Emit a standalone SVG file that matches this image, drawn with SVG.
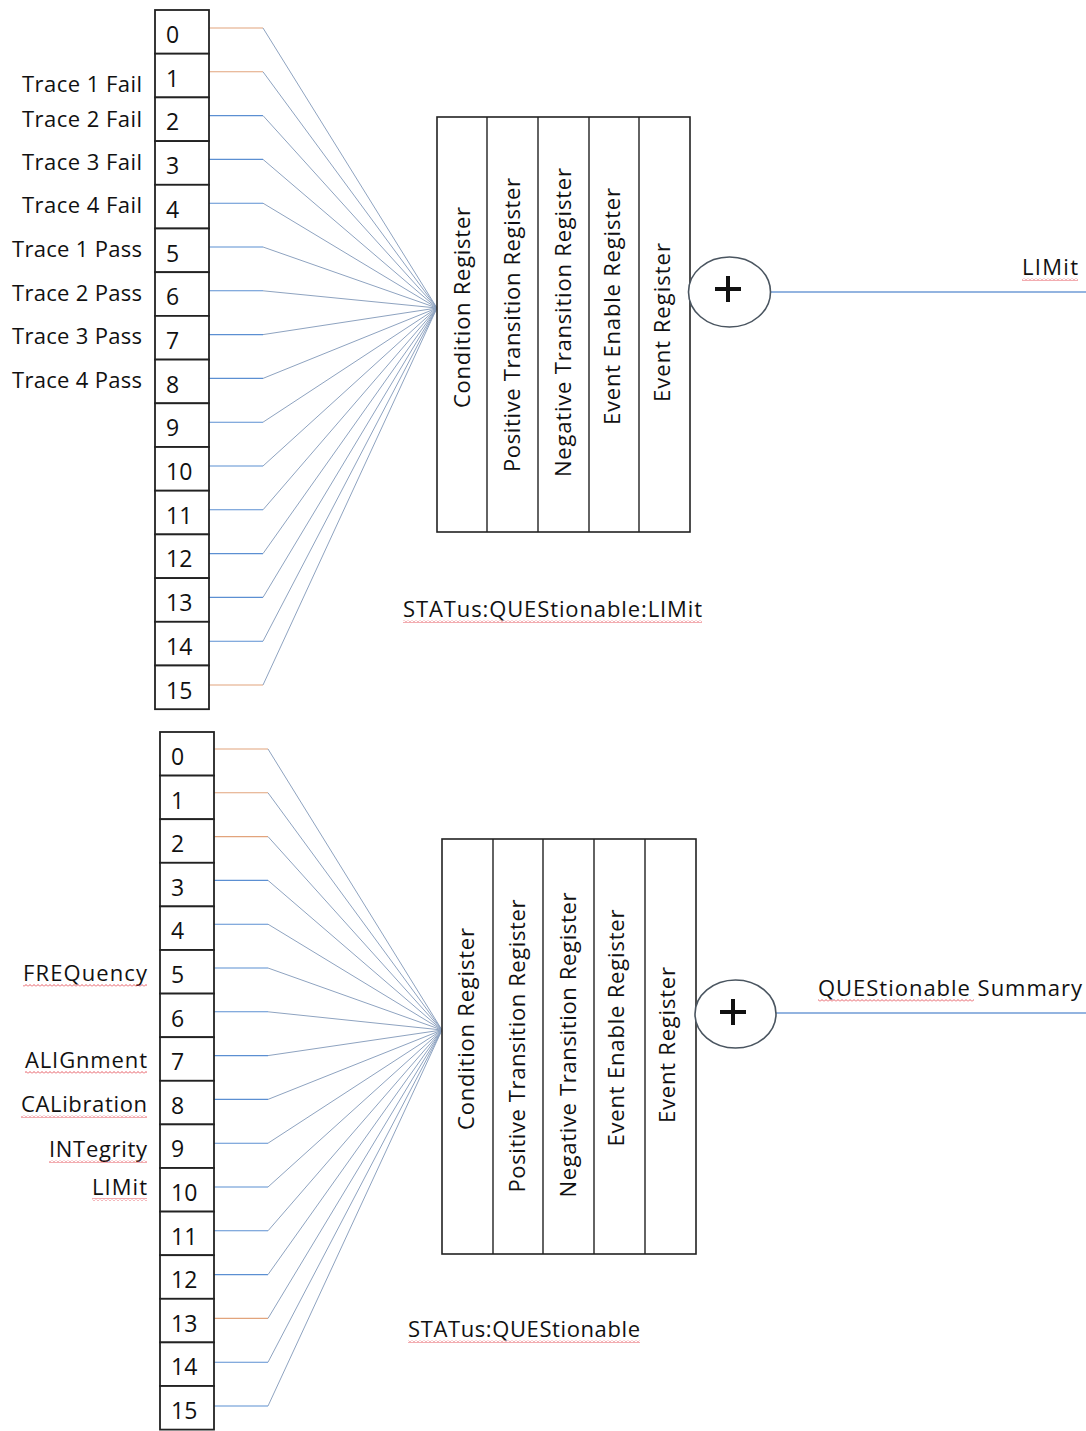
<svg xmlns="http://www.w3.org/2000/svg" width="1086" height="1431" viewBox="0 0 1086 1431">
<style>
text{font-family:"Open Sans","Liberation Sans",sans-serif;fill:#111}
.cell rect{fill:#fff;stroke:#222;stroke-width:1.8}
.num{font-size:23px}
.lbl{font-size:22px;text-anchor:end}
.reg rect{fill:#fff;stroke:#222;stroke-width:1.6}
.reg line{stroke:#222;stroke-width:1.4}
.rt{font-size:22px;text-anchor:middle}
.stub{stroke:#5b8fd2;stroke-width:1.1;fill:none}
.stubo{stroke:#e2a47c;stroke-width:1.1;fill:none}
.diag{stroke:#8ea3c0;stroke-width:1;fill:none}
.out{stroke:#6f9bd6;stroke-width:1.3}
.sum ellipse{fill:#fff;stroke:#4a5560;stroke-width:1.6}
.sum path{stroke:#111;stroke-width:4;fill:none}
.ttl{font-size:22px}
.squig{fill:url(#wave)}
</style>
<defs>
<pattern id="wave" width="4" height="3" patternUnits="userSpaceOnUse"><path d="M0 2.5 L2 0.5 L4 2.5" stroke="#e0303a" stroke-width="0.8" fill="none"/></pattern>
</defs>
<rect width="1086" height="1431" fill="#fff"/>

<g id="connectors">
<g id="top-connectors">
<path class="stubo" d="M209 28H263"/><path class="stubo" d="M209 71.8H263"/><path class="stub" d="M209 115.6H263"/><path class="stub" d="M209 159.4H263"/><path class="stub" d="M209 203.2H263"/><path class="stub" d="M209 247H263"/><path class="stub" d="M209 290.8H263"/><path class="stub" d="M209 334.6H263"/><path class="stub" d="M209 378.4H263"/><path class="stub" d="M209 422.2H263"/><path class="stub" d="M209 466H263"/><path class="stub" d="M209 509.8H263"/><path class="stub" d="M209 553.6H263"/><path class="stub" d="M209 597.4H263"/><path class="stub" d="M209 641.2H263"/><path class="stubo" d="M209 685H263"/>
<path class="diag" d="M263 28L437 308M263 71.8L437 308M263 115.6L437 308M263 159.4L437 308M263 203.2L437 308M263 247L437 308M263 290.8L437 308M263 334.6L437 308M263 378.4L437 308M263 422.2L437 308M263 466L437 308M263 509.8L437 308M263 553.6L437 308M263 597.4L437 308M263 641.2L437 308M263 685L437 308"/>
<line class="out" x1="771" y1="292" x2="1086" y2="292"/>
</g>
<g id="bottom-connectors">
<path class="stubo" d="M214 749H268"/><path class="stubo" d="M214 792.8H268"/><path class="stubo" d="M214 836.6H268"/><path class="stub" d="M214 880.4H268"/><path class="stub" d="M214 924.2H268"/><path class="stub" d="M214 968H268"/><path class="stub" d="M214 1011.8H268"/><path class="stub" d="M214 1055.6H268"/><path class="stub" d="M214 1099.4H268"/><path class="stub" d="M214 1143.2H268"/><path class="stub" d="M214 1187H268"/><path class="stub" d="M214 1230.8H268"/><path class="stub" d="M214 1274.6H268"/><path class="stubo" d="M214 1318.4H268"/><path class="stub" d="M214 1362.2H268"/><path class="stub" d="M214 1406H268"/>
<path class="diag" d="M268 749L442 1030M268 792.8L442 1030M268 836.6L442 1030M268 880.4L442 1030M268 924.2L442 1030M268 968L442 1030M268 1011.8L442 1030M268 1055.6L442 1030M268 1099.4L442 1030M268 1143.2L442 1030M268 1187L442 1030M268 1230.8L442 1030M268 1274.6L442 1030M268 1318.4L442 1030M268 1362.2L442 1030M268 1406L442 1030"/>
<line class="out" x1="776" y1="1013" x2="1086" y2="1013"/>
</g>
</g>

<g id="top-bits">
<g id="t0" class="cell"><rect x="155" y="10" width="54" height="43.7"/><text class="num" x="166" y="43">0</text></g>
<g id="t1" class="cell"><rect x="155" y="53.7" width="54" height="43.7"/><text class="num" x="166" y="86.7">1</text></g>
<g id="t2" class="cell"><rect x="155" y="97.4" width="54" height="43.7"/><text class="num" x="166" y="130.4">2</text></g>
<g id="t3" class="cell"><rect x="155" y="141.1" width="54" height="43.7"/><text class="num" x="166" y="174.1">3</text></g>
<g id="t4" class="cell"><rect x="155" y="184.8" width="54" height="43.7"/><text class="num" x="166" y="217.8">4</text></g>
<g id="t5" class="cell"><rect x="155" y="228.5" width="54" height="43.7"/><text class="num" x="166" y="261.5">5</text></g>
<g id="t6" class="cell"><rect x="155" y="272.2" width="54" height="43.7"/><text class="num" x="166" y="305.2">6</text></g>
<g id="t7" class="cell"><rect x="155" y="315.9" width="54" height="43.7"/><text class="num" x="166" y="348.9">7</text></g>
<g id="t8" class="cell"><rect x="155" y="359.6" width="54" height="43.7"/><text class="num" x="166" y="392.6">8</text></g>
<g id="t9" class="cell"><rect x="155" y="403.3" width="54" height="43.7"/><text class="num" x="166" y="436.3">9</text></g>
<g id="t10" class="cell"><rect x="155" y="447" width="54" height="43.7"/><text class="num" x="166" y="480">10</text></g>
<g id="t11" class="cell"><rect x="155" y="490.7" width="54" height="43.7"/><text class="num" x="166" y="523.7">11</text></g>
<g id="t12" class="cell"><rect x="155" y="534.4" width="54" height="43.7"/><text class="num" x="166" y="567.4">12</text></g>
<g id="t13" class="cell"><rect x="155" y="578.1" width="54" height="43.7"/><text class="num" x="166" y="611.1">13</text></g>
<g id="t14" class="cell"><rect x="155" y="621.8" width="54" height="43.7"/><text class="num" x="166" y="654.8">14</text></g>
<g id="t15" class="cell"><rect x="155" y="665.5" width="54" height="43.7"/><text class="num" x="166" y="698.5">15</text></g>
</g>

<g id="top-labels">
<text class="lbl" x="142" y="92" textLength="120">Trace 1 Fail</text>
<text class="lbl" x="142" y="127" textLength="120">Trace 2 Fail</text>
<text class="lbl" x="142" y="170" textLength="120">Trace 3 Fail</text>
<text class="lbl" x="142" y="213" textLength="120">Trace 4 Fail</text>
<text class="lbl" x="142" y="257" textLength="130">Trace 1 Pass</text>
<text class="lbl" x="142" y="301" textLength="130">Trace 2 Pass</text>
<text class="lbl" x="142" y="344" textLength="130">Trace 3 Pass</text>
<text class="lbl" x="142" y="388" textLength="130">Trace 4 Pass</text>
</g>

<g id="top-registers" class="reg">
<rect x="437" y="117" width="253" height="415"/>
<line x1="487" y1="117" x2="487" y2="532"/><line x1="538" y1="117" x2="538" y2="532"/><line x1="589" y1="117" x2="589" y2="532"/><line x1="639" y1="117" x2="639" y2="532"/>
<text class="rt" transform="translate(470,307.5) rotate(-90)" textLength="201">Condition Register</text>
<text class="rt" transform="translate(520,325) rotate(-90)" textLength="294">Positive Transition Register</text>
<text class="rt" transform="translate(571,322.5) rotate(-90)" textLength="309">Negative Transition Register</text>
<text class="rt" transform="translate(620,306.5) rotate(-90)" textLength="237">Event Enable Register</text>
<text class="rt" transform="translate(670,322.5) rotate(-90)" textLength="159">Event Register</text>
</g>

<g id="top-summary" class="sum">
<ellipse cx="729.5" cy="292" rx="41" ry="35"/>
<path d="M715 289H741M728 276V302"/>
</g>

<g id="top-output-label">
<text class="ttl" x="1078" y="275" text-anchor="end" textLength="56">LIMit</text>
<rect class="squig" x="1022" y="278" width="56" height="3"/>
</g>

<g id="top-title">
<text class="ttl" x="403" y="617" textLength="299">STATus:QUEStionable:LIMit</text>
<rect class="squig" x="403" y="620" width="299" height="3"/>
</g>

<g id="bottom-bits">
<g id="b0" class="cell"><rect x="160" y="732" width="54" height="43.6"/><text class="num" x="171" y="765">0</text></g>
<g id="b1" class="cell"><rect x="160" y="775.6" width="54" height="43.6"/><text class="num" x="171" y="808.6">1</text></g>
<g id="b2" class="cell"><rect x="160" y="819.2" width="54" height="43.6"/><text class="num" x="171" y="852.2">2</text></g>
<g id="b3" class="cell"><rect x="160" y="862.8" width="54" height="43.6"/><text class="num" x="171" y="895.8">3</text></g>
<g id="b4" class="cell"><rect x="160" y="906.4" width="54" height="43.6"/><text class="num" x="171" y="939.4">4</text></g>
<g id="b5" class="cell"><rect x="160" y="950" width="54" height="43.6"/><text class="num" x="171" y="983">5</text></g>
<g id="b6" class="cell"><rect x="160" y="993.6" width="54" height="43.6"/><text class="num" x="171" y="1026.6">6</text></g>
<g id="b7" class="cell"><rect x="160" y="1037.2" width="54" height="43.6"/><text class="num" x="171" y="1070.2">7</text></g>
<g id="b8" class="cell"><rect x="160" y="1080.8" width="54" height="43.6"/><text class="num" x="171" y="1113.8">8</text></g>
<g id="b9" class="cell"><rect x="160" y="1124.4" width="54" height="43.6"/><text class="num" x="171" y="1157.4">9</text></g>
<g id="b10" class="cell"><rect x="160" y="1168" width="54" height="43.6"/><text class="num" x="171" y="1201">10</text></g>
<g id="b11" class="cell"><rect x="160" y="1211.6" width="54" height="43.6"/><text class="num" x="171" y="1244.6">11</text></g>
<g id="b12" class="cell"><rect x="160" y="1255.2" width="54" height="43.6"/><text class="num" x="171" y="1288.2">12</text></g>
<g id="b13" class="cell"><rect x="160" y="1298.8" width="54" height="43.6"/><text class="num" x="171" y="1331.8">13</text></g>
<g id="b14" class="cell"><rect x="160" y="1342.4" width="54" height="43.6"/><text class="num" x="171" y="1375.4">14</text></g>
<g id="b15" class="cell"><rect x="160" y="1386" width="54" height="43.6"/><text class="num" x="171" y="1419">15</text></g>
</g>

<g id="bottom-labels">
<text class="lbl" x="147" y="981" textLength="124">FREQuency</text>
<rect class="squig" x="23" y="984" width="124" height="3"/>
<text class="lbl" x="147" y="1068" textLength="122">ALIGnment</text>
<rect class="squig" x="25" y="1071" width="122" height="3"/>
<text class="lbl" x="147" y="1112" textLength="126">CALibration</text>
<rect class="squig" x="21" y="1115" width="126" height="3"/>
<text class="lbl" x="147" y="1157" textLength="98">INTegrity</text>
<rect class="squig" x="49" y="1160" width="98" height="3"/>
<text class="lbl" x="147" y="1195" textLength="55">LIMit</text>
<rect class="squig" x="92" y="1198" width="55" height="3"/>
</g>

<g id="bottom-registers" class="reg">
<rect x="442" y="839" width="254" height="415"/>
<line x1="493" y1="839" x2="493" y2="1254"/><line x1="543" y1="839" x2="543" y2="1254"/><line x1="594" y1="839" x2="594" y2="1254"/><line x1="645" y1="839" x2="645" y2="1254"/>
<text class="rt" transform="translate(474,1029) rotate(-90)" textLength="202">Condition Register</text>
<text class="rt" transform="translate(525,1046) rotate(-90)" textLength="293">Positive Transition Register</text>
<text class="rt" transform="translate(576,1045) rotate(-90)" textLength="305">Negative Transition Register</text>
<text class="rt" transform="translate(624,1028) rotate(-90)" textLength="237">Event Enable Register</text>
<text class="rt" transform="translate(675,1045) rotate(-90)" textLength="156">Event Register</text>
</g>

<g id="bottom-summary" class="sum">
<ellipse cx="735.5" cy="1014" rx="40.5" ry="34"/>
<path d="M720 1012H746M733 999V1025"/>
</g>

<g id="bottom-output-label">
<text class="ttl" x="818" y="996" textLength="264">QUEStionable Summary</text>
<rect class="squig" x="818" y="999" width="156" height="3"/>
</g>

<g id="bottom-title">
<text class="ttl" x="408" y="1337" textLength="232">STATus:QUEStionable</text>
<rect class="squig" x="408" y="1340" width="232" height="3"/>
</g>
</svg>
